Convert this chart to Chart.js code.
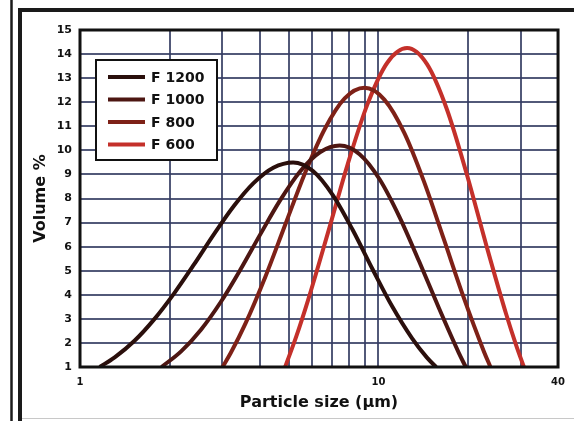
<!DOCTYPE html>
<html>
<head>
<meta charset="utf-8">
<script src="https://cdn.jsdelivr.net/npm/chart.js@4.4.1/dist/chart.umd.min.js"></script>
<style>
  html, body { margin: 0; padding: 0; background: #fff; }
  #wrap { width: 574px; height: 421px; position: relative; }
</style>
</head>
<body>
<div id="wrap"><canvas id="psdChart"></canvas></div>
<script>
// Grades (legend order) and curves: size in µm, volume in %
const grades = ['F 1200', 'F 1000', 'F 800', 'F 600'];

const f1200Size = [1.164, 1.307, 1.523, 1.775, 2.068, 2.411, 2.809, 3.273, 3.815, 4.444, 5.18, 6.036, 7.034, 8.196, 9.552, 11.13, 12.97, 14.55, 15.61];
const f1200Vol  = [1,     1.40,  2.09,  2.99,  4.06,  5.26,  6.51,  7.68,  8.64,  9.28,  9.5,  9.14,  8.14,  6.70,  5.07,  3.51,  2.19,  1.39,  1];

const f1000Size = [1.876, 2.182, 2.543, 2.963, 3.453, 4.024, 4.689, 5.464, 6.368, 7.42, 8.647, 10.08, 11.74, 13.69, 15.95, 18.58, 19.62];
const f1000Vol  = [1,     1.65,  2.55,  3.70,  5.06,  6.52,  7.93,  9.12,  9.92,  10.2, 9.84,  8.81,  7.26,  5.39,  3.45,  1.60,  1];

const f800Size = [3.004, 3.199, 3.587, 4.181, 4.872, 5.678, 6.617, 7.709, 8.985, 10.47, 12.20, 14.22, 16.57, 19.31, 22.50, 23.74];
const f800Vol  = [1,     1.58,  2.81,  4.75,  6.91,  9.06,  10.90, 12.16, 12.6,  12.11, 10.74, 8.70,  6.31,  3.89,  1.69,  1];

const f600Size = [4.868, 5.300, 5.809, 6.770, 7.889, 9.194, 10.71, 12.48, 14.55, 16.95, 19.75, 23.02, 26.83, 28.96, 30.74];
const f600Vol  = [1,     2.25,  3.77,  6.56,  9.42,  11.92, 13.64, 14.25, 13.58, 11.72, 9.04,  6.04,  3.18,  1.90,  1];

// axis ticks
const sizeTicks = [1, 2, 3, 4, 5, 6, 7, 8, 9, 10, 20, 30, 40];
const sizeLabels = [1, 10, 40];

const lineColors = ['#2a0f0c', '#4d1612', '#7e2117', '#c4302a'];

function toPoints(xs, ys) {
    return xs.map((x, i) => ({ x: x, y: ys[i] }));
}

const curves = [
    toPoints(f1200Size, f1200Vol),
    toPoints(f1000Size, f1000Vol),
    toPoints(f800Size, f800Vol),
    toPoints(f600Size, f600Vol)
];

// Frame around the figure, border of the plot and boxed legend
const framePlugin = {
    id: 'frame',
    beforeDraw(chart) {
        const ctx = chart.ctx;
        ctx.save();
        ctx.fillStyle = '#fff';
        ctx.fillRect(0, 0, chart.width, chart.height);
        ctx.strokeStyle = '#1a1a1a';
        ctx.lineWidth = 2.5;
        ctx.beginPath();
        ctx.moveTo(11.5, 0); ctx.lineTo(11.5, 421);
        ctx.stroke();
        ctx.lineWidth = 4;
        ctx.beginPath();
        ctx.moveTo(20, 421); ctx.lineTo(20, 10); ctx.lineTo(574, 10);
        ctx.stroke();
        ctx.strokeStyle = '#c8c8c8';
        ctx.lineWidth = 1;
        ctx.beginPath();
        ctx.moveTo(22, 418.5); ctx.lineTo(574, 418.5);
        ctx.stroke();
        ctx.restore();
    },
    afterDatasetsDraw(chart) {
        const ctx = chart.ctx;
        const a = chart.chartArea;
        ctx.save();
        ctx.strokeStyle = '#111';
        ctx.lineWidth = 3;
        ctx.strokeRect(a.left, a.top, a.right - a.left, a.bottom - a.top);

        // legend box
        ctx.fillStyle = '#fff';
        ctx.fillRect(96, 60, 121, 100);
        ctx.lineWidth = 2;
        ctx.strokeRect(96, 60, 121, 100);
        ctx.font = 'bold 14px "DejaVu Sans"';
        ctx.textBaseline = 'middle';
        chart.data.datasets.forEach((ds, i) => {
            const y = 77 + i * 22.5;
            ctx.strokeStyle = ds.borderColor;
            ctx.lineWidth = 4;
            ctx.beginPath();
            ctx.moveTo(108, y); ctx.lineTo(145, y);
            ctx.stroke();
            ctx.fillStyle = '#111';
            ctx.fillText(ds.label, 151, y + 1);
        });
        ctx.restore();
    }
};

Chart.defaults.font.family = '"DejaVu Sans", sans-serif';
Chart.defaults.color = '#111';

new Chart(document.getElementById('psdChart'), {
    type: 'line',
    data: {
        datasets: grades.map((g, i) => ({
            label: g,
            data: curves[i],
            borderColor: lineColors[i],
            borderWidth: 4,
            pointRadius: 0,
            fill: false,
            cubicInterpolationMode: 'monotone'
        }))
    },
    options: {
        responsive: true,
        maintainAspectRatio: false,
        animation: false,
        layout: { padding: { top: 30, right: 12, left: 0, bottom: 0 } },
        plugins: {
            legend: { display: false },
            tooltip: { enabled: false }
        },
        scales: {
            x: {
                type: 'logarithmic',
                min: 1,
                max: 40,
                afterBuildTicks: (scale) => {
                    scale.ticks = sizeTicks.map(v => ({ value: v }));
                },
                afterFit: (scale) => { scale.height = 54; },
                ticks: {
                    autoSkip: false,
                    maxRotation: 0,
                    padding: 9,
                    font: { size: 10, weight: 'bold' },
                    callback: (v) => sizeLabels.includes(v) ? String(v) : ''
                },
                grid: { color: 'rgba(52, 60, 98, 0.85)', lineWidth: 2, drawTicks: false },
                border: { display: false },
                title: {
                    display: true,
                    text: 'Particle size (µm)',
                    font: { size: 16, weight: 'bold' },
                    padding: { top: 0, bottom: 9 }
                }
            },
            y: {
                min: 1,
                max: 15,
                afterFit: (scale) => { scale.width = 80; },
                ticks: {
                    stepSize: 1,
                    padding: 8,
                    font: { size: 11, weight: 'bold' }
                },
                grid: { color: 'rgba(52, 60, 98, 0.85)', lineWidth: 2, drawTicks: false },
                border: { display: false },
                title: {
                    display: true,
                    text: 'Volume %',
                    font: { size: 16, weight: 'bold' },
                    padding: { top: 31, bottom: 0 }
                }
            }
        }
    },
    plugins: [framePlugin]
});
</script>
</body>
</html>
